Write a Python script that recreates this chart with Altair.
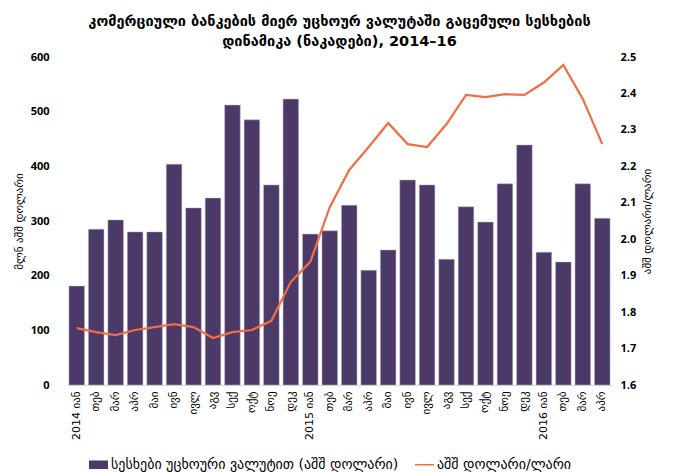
import altair as alt
import pandas as pd

months = ["2014 იან", "თებ", "მარ", "აპრ", "მაი", "ივნ", "ივლ", "აგვ", "სექ", "ოქტ", "ნოე", "დეკ",
          "2015 იან", "თებ ", "მარ ", "აპრ ", "მაი ", "ივნ ", "ივლ ", "აგვ ", "სექ ", "ოქტ ", "ნოე ", "დეკ ",
          "2016 იან", "თებ  ", "მარ  ", "აპრ  "]
loans = [181, 285, 302, 280, 280, 404, 324, 342, 512, 485, 366, 523,
         276, 282, 329, 210, 247, 375, 366, 230, 326, 298, 368, 439,
         243, 225, 368, 305]
rate = [1.756, 1.745, 1.737, 1.751, 1.759, 1.767, 1.759, 1.729, 1.745, 1.751, 1.776, 1.883,
        1.938, 2.088, 2.190, 2.253, 2.319, 2.261, 2.253, 2.316, 2.396, 2.390, 2.398, 2.396,
        2.430, 2.478, 2.385, 2.261]
series = ["სესხები უცხოური ვალუტით (აშშ დოლარი)", "აშშ დოლარი/ლარი"]

PURPLE = "#4b3a68"
ORANGE = "#f26d42"
FONT = "DejaVu Sans"

df = pd.DataFrame({"month": months, "loans": loans, "rate": rate})
legend_df = pd.DataFrame({"series": series})

x = alt.X("month:N", sort=months, title=None,
          scale=alt.Scale(paddingInner=0.2, paddingOuter=0.1),
          axis=alt.Axis(labelAngle=270, labelFont=FONT, labelFontSize=11, labelColor="#000",
                        ticks=False, domainColor="#d9d9d9", labelPadding=6))

bars = alt.Chart(df).mark_bar(color=PURPLE, stroke="#b9b2c8", strokeWidth=0.5).encode(
    x=x,
    y=alt.Y("loans:Q", title="მლნ აშშ დოლარი",
            scale=alt.Scale(domain=[0, 600]),
            axis=alt.Axis(values=[0, 100, 200, 300, 400, 500, 600], grid=False, domain=False, ticks=False,
                          labelFont="Open Sans", labelFontWeight="bold", labelFontSize=11, labelColor="#000",
                          titleFont=FONT, titleFontSize=11, titleFontWeight="normal", titleColor="#000",
                          labelPadding=18, titlePadding=6))
)

line = alt.Chart(df).mark_line(color=ORANGE, strokeWidth=2.2).encode(
    x=x,
    y=alt.Y("rate:Q", title="აშშ დოლარი/ლარი",
            scale=alt.Scale(domain=[1.6, 2.5], zero=False),
            axis=alt.Axis(orient="right", values=[1.6, 1.7, 1.8, 1.9, 2.0, 2.1, 2.2, 2.3, 2.4, 2.5],
                          format=".1f", grid=False, domain=False, ticks=False,
                          labelFont="Open Sans", labelFontWeight="bold", labelFontSize=11, labelColor="#000",
                          titleFont=FONT, titleFontSize=11, titleFontWeight="normal", titleColor="#000",
                          titleAngle=270, titleBaseline="top",
                          labelPadding=8, titlePadding=6))
)

BAR_SYM = "M-1,-0.45L1,-0.45L1,0.45L-1,0.45Z"
LINE_SYM = "M0,-0.45L0,-0.45M-1,-0.07L1,-0.07L1,0.07L-1,0.07ZM0,0.45L0,0.45"

leg = alt.Chart(legend_df).mark_point(filled=True, size=0, opacity=1).encode(
    color=alt.Color("series:N", scale=alt.Scale(domain=series, range=[PURPLE, ORANGE]),
                    legend=alt.Legend(orient="none", legendX=22, legendY=398,
                                      direction="horizontal", title=None,
                                      symbolSize=361, symbolOpacity=1, symbolStrokeWidth=0,
                                      labelFont=FONT, labelFontSize=14,
                                      labelColor="#000", columnPadding=16, labelLimit=500,
                                      labelOffset=3)),
    shape=alt.Shape("series:N", scale=alt.Scale(domain=series, range=[BAR_SYM, LINE_SYM]),
                    legend=alt.Legend(orient="none", legendX=22, legendY=398,
                                      direction="horizontal", title=None))
)

chart = alt.layer(bars, line, leg).resolve_scale(y="independent").properties(
    width=545, height=328,
    title=alt.TitleParams(
        ["კომერციული ბანკების მიერ უცხოურ ვალუტაში გაცემული სესხების", "დინამიკა (ნაკადები), 2014–16"],
        font=FONT, fontSize=14.5, fontWeight="bold", color="#000", anchor="middle", offset=2, lineHeight=20),
    background="white"
).configure_view(stroke=None)

chart.save("out.html", embed_options={"renderer": "svg", "actions": False})
